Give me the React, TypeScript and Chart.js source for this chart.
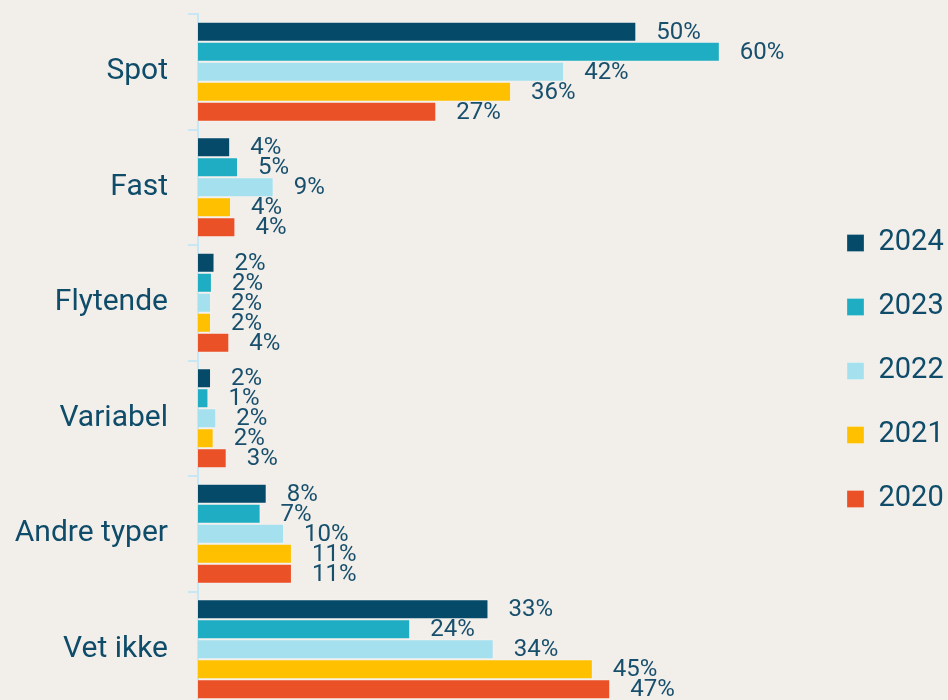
import React, { useEffect, useRef } from "react";
import { Chart, registerables } from "chart.js";

Chart.register(...registerables);

const categories = ["Spot", "Fast", "Flytende", "Variabel", "Andre typer", "Vet ikke"];
const seriesNames = ["2024", "2023", "2022", "2021", "2020"];
const values2024 = [50.4, 3.7, 1.9, 1.5, 7.9, 33.4];
const values2023 = [60.0, 4.6, 1.6, 1.2, 7.2, 24.4];
const values2022 = [42.1, 8.7, 1.5, 2.1, 9.9, 34.0];
const values2021 = [36.0, 3.8, 1.5, 1.8, 10.8, 45.4];
const values2020 = [27.4, 4.3, 3.6, 3.3, 10.8, 47.4];
const seriesColors = ["#054a68", "#1eadc2", "#a5e0ef", "#ffc000", "#eb5127"];

const BG = "#f2eeea";
const TEXT = "#0f4c6a";
const AXIS = "#c7e7f5";

const dataLabelPlugin = {
  id: "dataLabels",
  afterDatasetsDraw(chart: any) {
    const ctx = chart.ctx;
    ctx.save();
    ctx.font = "400 24px Roboto";
    ctx.fillStyle = "#174f6c";
    ctx.textAlign = "left";
    ctx.textBaseline = "middle";
    chart.data.datasets.forEach((ds: any, i: number) => {
      const meta = chart.getDatasetMeta(i);
      meta.data.forEach((bar: any, j: number) => {
        const v = ds.data[j];
        ctx.fillText(Math.round(v) + "%", bar.x + 20, bar.y + 1);
      });
    });
    ctx.restore();
  },
};

export default function App() {
  const ref = useRef<HTMLCanvasElement | null>(null);
  useEffect(() => {
    if (!ref.current) return;
    const all = [values2024, values2023, values2022, values2021, values2020];
    const chart = new Chart(ref.current, {
      type: "bar",
      data: {
        labels: categories,
        datasets: seriesNames.map((name, i) => ({
          label: name,
          data: all[i],
          backgroundColor: seriesColors[i],
          borderColor: "rgba(255,255,255,0.25)",
          borderWidth: 1,
          barPercentage: 1,
          categoryPercentage: 0.866,
        })),
      },
      options: {
        indexAxis: "y",
        animation: false,
        responsive: false,
        layout: { padding: { top: 14, bottom: 3, left: 0, right: 0 } },
        scales: {
          x: { display: false, min: 0, max: 70.6 },
          y: {
            afterFit: (s: any) => {
              s.width = 198;
              s.paddingTop = 0;
              s.paddingBottom = 0;
            },
            border: { display: true, color: AXIS, width: 2 },
            grid: {
              display: true,
              drawOnChartArea: false,
              drawTicks: true,
              tickLength: 10,
              color: AXIS,
              lineWidth: 2,
              offset: true,
            },
            ticks: {
              color: TEXT,
              padding: 20,
              font: { family: "Roboto", size: 30 },
            },
          },
        },
        plugins: {
          tooltip: { enabled: false },
          legend: {
            position: "right",
            align: "center",
            maxWidth: 136,
            title: { display: true, text: "", font: { size: 21, lineHeight: 1 }, padding: 0 },
            labels: {
              boxWidth: 17,
              boxHeight: 17,
              padding: 35,
              color: TEXT,
              font: { family: "Roboto", size: 29 },
            },
          },
        },
      },
      plugins: [dataLabelPlugin],
    });
    return () => chart.destroy();
  }, []);
  return (
    <div
      style={{
        position: "fixed",
        top: 0,
        left: 0,
        width: 948,
        height: 700,
        overflow: "hidden",
        background: BG,
      }}
    >
      <canvas ref={ref} width={948} height={710} style={{ display: "block" }} />
    </div>
  );
}
